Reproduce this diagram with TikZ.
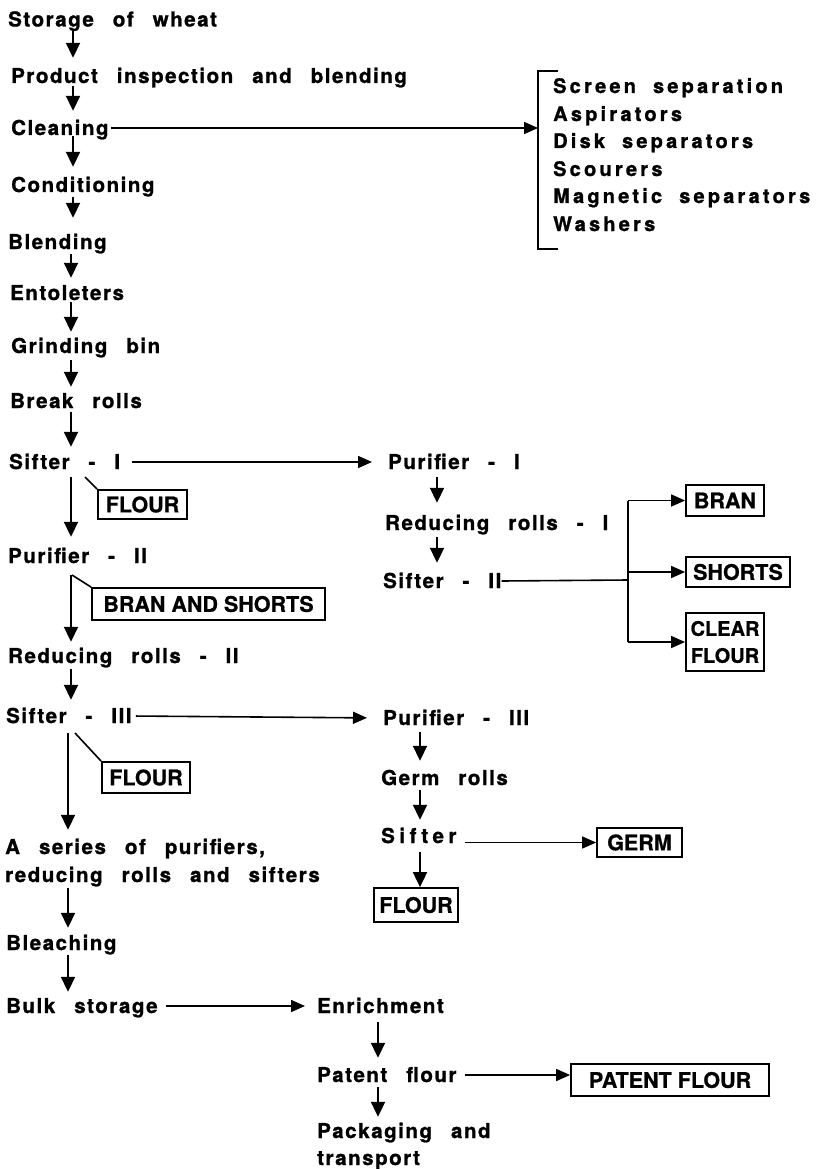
\documentclass[tikz,border=0pt]{standalone}
\usepackage{fontspec}
\setmainfont{TeX Gyre Heros}
\newfontfamily\flowfont[LetterSpace=7.5,FakeBold=1.2]{TeX Gyre Heros}
\newfontfamily\listfont[LetterSpace=16,FakeBold=1.2]{TeX Gyre Heros}
\newfontfamily\boxfont[FakeBold=0.8]{TeX Gyre Heros}
\usetikzlibrary{arrows.meta}

\newcommand\flowtext{\flowfont\bfseries\fontsize{20.5}{28}\selectfont\spaceskip 19pt plus 2pt\relax}
\newcommand\listtext{\listfont\bfseries\fontsize{20}{28}\selectfont\spaceskip 17pt plus 2pt\relax}
\newcommand\widetext{\flowtext\addfontfeature{LetterSpace=22}}
\newcommand\boxtext{\boxfont\bfseries\fontsize{21.5}{27}\selectfont}
\newcommand\narrowbox{\boxfont\bfseries\fontsize{20}{27}\selectfont}

\tikzset{
  proc/.style={anchor=base west, inner sep=0pt, text height=14pt, text depth=0pt,
    font=\flowtext},
  listitem/.style={proc, font=\listtext},
  widesp/.style={font=\widetext},
  outbox/.style={draw, line width=1.8pt, inner sep=0pt, align=center,
    font=\boxtext},
  flow/.style 2 args={line width=1.9pt, -{Triangle[length=15pt,width=14pt]},
    shorten <=#1pt, shorten >=#2pt},
  feed/.style 2 args={line width=1.6pt, -{Triangle[length=14pt,width=12pt]},
    shorten <=#1pt, shorten >=#2pt},
  plain/.style={line width=1.6pt},
}

\begin{document}
\begin{tikzpicture}[x=1pt,y=-1pt]
\fill[white] (0,0) rectangle (828,1169);
\useasboundingbox (0,0) rectangle (828,1169);

% arrow columns
\coordinate (c73) at (73,0);
\coordinate (c71) at (71,0);
\coordinate (c68) at (68,0);
\coordinate (c437) at (437,0);
\coordinate (c420) at (420,0);
\coordinate (c378) at (378,0);

% main line of the mill
\node[proc] (storage) at (8,26.5) {Storage of wheat};
\node[proc] (inspect) at (11,83) {Product inspection and blending};
\node[proc] (cleaning) at (11,135) {Cleaning};
\node[proc] (cond) at (11,192) {Conditioning};
\node[proc] (blend) at (8,249) {Blending};
\node[proc] (ento) at (10,300) {Entoleters};
\node[proc] (grind) at (11,353) {Grinding bin};
\node[proc] (brk) at (10,408) {Break rolls};
\node[proc] (sift1) at (9,469) {Sifter - I};
\node[proc] (pur2) at (8,563) {Purifier - II};
\node[proc] (red2) at (8,663) {Reducing rolls - II};
\node[proc] (sift3) at (6,723) {Sifter - III};
\node[proc] (ser1) at (5,854) {A series of purifiers,};
\node[proc] (ser2) at (5,882) {reducing rolls and sifters};
\node[proc] (bleach) at (6,950) {Bleaching};
\node[proc] (bulk) at (6,1013) {Bulk storage};

% side streams
\node[proc] (pur1) at (388,469) {Purifier - I};
\node[proc] (red1) at (385,530) {Reducing rolls - I};
\node[proc] (sift2) at (383,588) {Sifter - II};
\node[proc] (pur3) at (383,725) {Purifier - III};
\node[proc] (germr) at (381,785) {Germ rolls};
\node[proc,widesp] (sifter) at (381,843) {Sifter};
\node[proc] (enrich) at (317,1013) {Enrichment};
\node[proc] (patent) at (317,1082) {Patent flour};
\node[proc] (pack1) at (317,1138) {Packaging and};
\node[proc] (pack2) at (317,1165) {transport};

% cleaning equipment
\foreach \t/\yy [count=\i] in {Screen separation/93, Aspirators/121, Disk separators/148,
    Scourers/176, Magnetic separators/203, Washers/231}
  \node[listitem] (item\i) at (553,\yy) {\t};
\coordinate (bkt) at (558,71);
\coordinate (bkb) at (558,249);
\coordinate (bk) at (538,128);
\draw[plain] (bkt) -- (bkt -| bk) -- (bkb -| bk) -- (bkb);

% products
\node[outbox, minimum width=89pt, minimum height=29pt] (flour1) at (142.5,504.5) {FLOUR};
\node[outbox, minimum width=233pt, minimum height=32pt] (bas) at (208.5,604) {BRAN AND SHORTS};
\node[outbox, minimum width=88pt, minimum height=31pt] (flour3) at (146,777.5) {FLOUR};
\node[outbox, minimum width=78pt, minimum height=31pt] (bran) at (725,500.5) {BRAN};
\node[outbox, minimum width=104pt, minimum height=30pt] (shorts) at (738,572) {SHORTS};
\node[outbox, font=\narrowbox, minimum width=78pt, minimum height=58pt] (clear) at (725,642) {CLEAR\\FLOUR};
\node[outbox, minimum width=85pt, minimum height=29pt] (germ) at (639.5,842.5) {GERM};
\node[outbox, minimum width=84pt, minimum height=34pt] (flour4) at (416,905) {FLOUR};
\node[outbox, minimum width=198pt, minimum height=32pt] (pbox) at (670,1080) {PATENT FLOUR};

% downward flow
\draw[flow={3}{11}] (storage.south -| c73) -- (inspect.north -| c73);
\draw[flow={3}{10}] (inspect.south -| c73) -- (cleaning.north -| c73);
\draw[flow={1}{11}] (cleaning.south -| c73) -- (cond.north -| c73);
\draw[flow={5}{17}] (cond.south -| c73) -- (blend.north -| c73);
\draw[flow={5}{8}] (blend.south -| c71) -- (ento.north -| c71);
\draw[flow={2}{7}] (ento.south -| c71) -- (grind.north -| c71);
\draw[flow={7}{7}] (grind.south -| c71) -- (brk.north -| c71);
\draw[flow={4}{8}] (brk.south -| c71) -- (sift1.north -| c71);
\draw[flow={8}{12}] (sift1.south -| c71) -- (pur2.north -| c71);
\draw[flow={12}{7}] (pur2.south -| c71) -- (red2.north -| c71);
\draw[flow={6}{9}] (red2.south -| c71) -- (sift3.north -| c71);
\draw[flow={10}{10}] (sift3.south -| c68) -- (ser1.north -| c68);
\draw[flow={6}{8}] (ser2.south -| c68) -- (bleach.north -| c68);
\draw[flow={5}{7}] (bleach.south -| c68) -- (bulk.north -| c68);

\draw[flow={8}{13}] (pur1.south -| c437) -- (red1.north -| c437);
\draw[flow={7}{11}] (red1.south -| c437) -- (sift2.north -| c437);
\draw[flow={7}{10}] (pur3.south -| c420) -- (germr.north -| c420);
\draw[flow={5}{9}] (germr.south -| c420) -- (sifter.north -| c420);
\draw[flow={9}{0}] (sifter.south -| c420) -- (flour4.north -| c420);
\draw[flow={9}{10}] (enrich.south -| c378) -- (patent.north -| c378);
\draw[flow={5}{7}] (patent.south -| c378) -- (pack1.north -| c378);

% sideways flow
\draw[feed={2}{0}] (cleaning.east) -- (bk);
\draw[feed={12}{16}] (sift1.east) -- (pur1.west);
\draw[feed={4}{16}] (sift3.east) -- (pur3.west);
\draw[feed={8}{0}] (germ.west -| sifter.east) -- (germ.west);
\draw[feed={8}{12}] (bulk.east) -- (enrich.west);
\draw[feed={8}{0}] (patent.east) -- (patent.east -| pbox.west);

% sifter II split
\coordinate (br) at (628,580);
\draw[plain] (sift2.east) -- (br);
\draw[plain] (br |- bran.west) -- (br |- clear.west);
\draw[feed={0}{0}] (br |- bran.west) -- (bran.west);
\draw[feed={0}{0}] (br |- shorts.west) -- (shorts.west);
\draw[feed={0}{0}] (br |- clear.west) -- (clear.west);

% leaders to the flour and bran boxes
\coordinate (t1) at (85,477);
\coordinate (t2) at (72,575);
\coordinate (t3) at (75,733);
\draw[plain] (t1) -- (flour1.north west);
\draw[plain] (t2) -- (bas.north west);
\draw[plain] (t3) -- (flour3.north west);
\end{tikzpicture}
\end{document}
